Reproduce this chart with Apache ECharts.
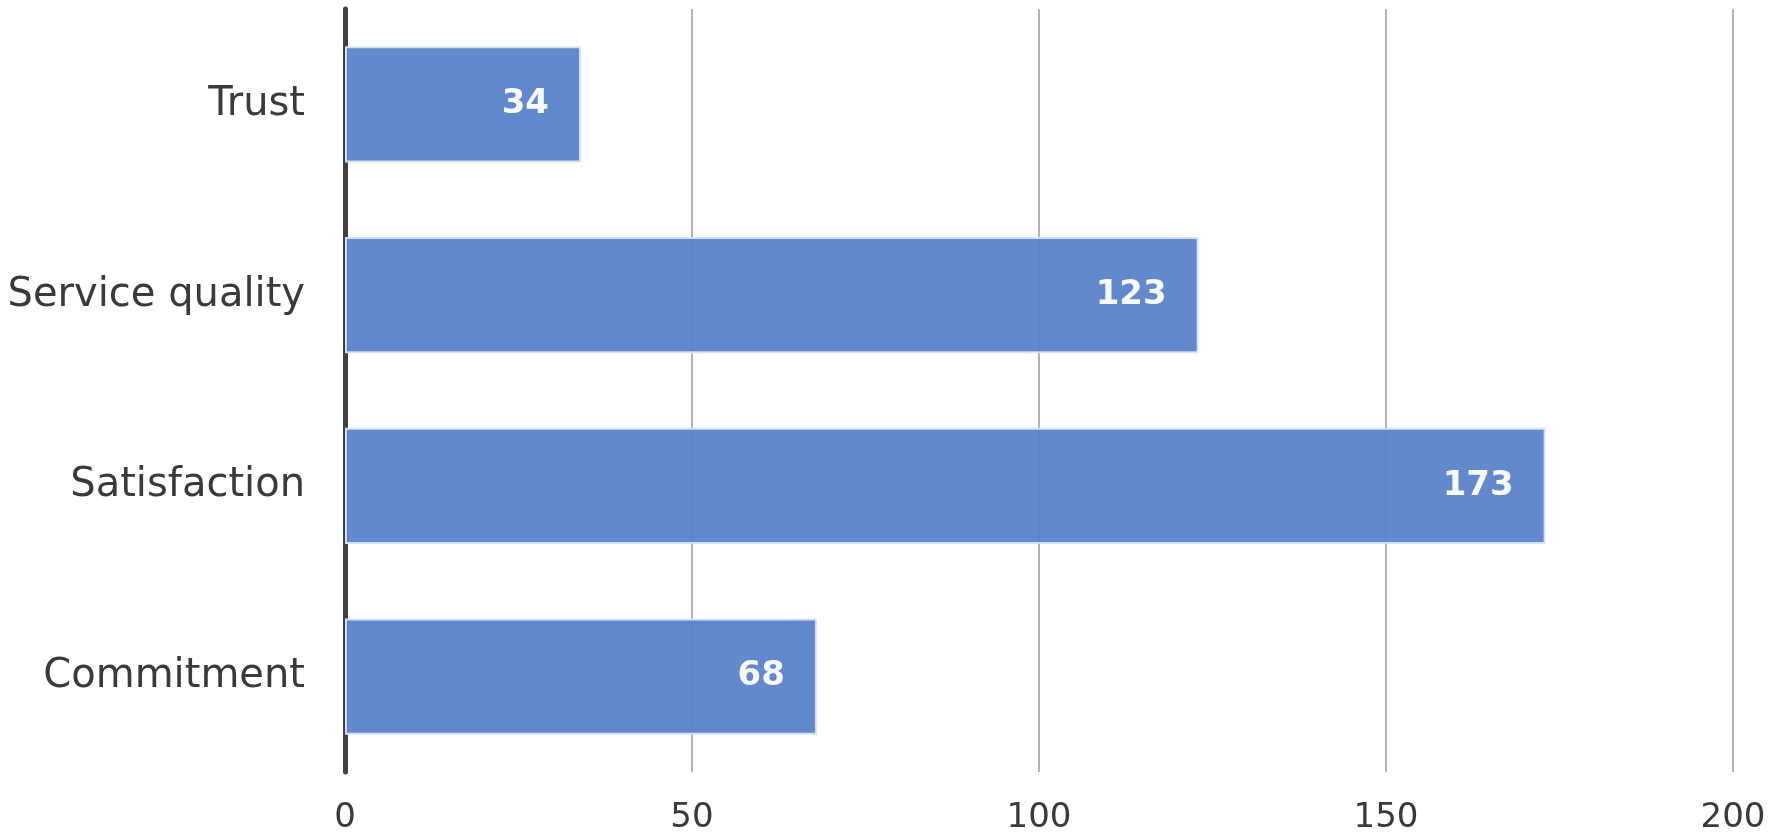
<!DOCTYPE html>
<html>
<head>
<meta charset="utf-8">
<script src="https://cdn.jsdelivr.net/npm/echarts@6/dist/echarts.min.js"></script>
<style>
html,body{margin:0;padding:0;background:#fff;}
#chart{width:1772px;height:839px;}
</style>
</head>
<body>
<div id="chart"></div>
<script>
const categories = ["Trust", "Service quality", "Satisfaction", "Commitment"];
const values = [34, 123, 173, 68];
const xTicks = [0, 50, 100, 150, 200];

const chart = echarts.init(document.getElementById('chart'), null, {renderer: 'canvas'});
chart.setOption({
  animation: false,
  backgroundColor: '#ffffff',
  grid: {left: 345, right: 39, top: 9, bottom: 67, containLabel: false},
  xAxis: {
    type: 'value',
    min: xTicks[0],
    max: xTicks[xTicks.length - 1],
    interval: 50,
    axisLine: {show: false},
    axisTick: {show: false},
    splitLine: {show: true, lineStyle: {color: '#b4b4b4', width: 2}},
    axisLabel: {
      margin: 29,
      fontFamily: 'DejaVu Sans',
      fontSize: 34,
      color: '#3a3a3a'
    }
  },
  yAxis: {
    type: 'category',
    data: categories,
    inverse: true,
    axisLine: {show: true, lineStyle: {color: '#404040', width: 5}},
    axisTick: {show: false},
    axisLabel: {
      margin: 40,
      fontFamily: 'DejaVu Sans',
      fontSize: 40,
      color: '#3a3a3a'
    }
  },
  series: [{
    type: 'bar',
    data: values,
    barWidth: '61%',
    itemStyle: {color: '#5a83c9', opacity: 0.95, borderColor: '#d8e3f3', borderWidth: 2},
    label: {
      show: true,
      position: 'insideRight',
      distance: 32,
      color: '#ffffff',
      fontFamily: 'DejaVu Sans',
      fontWeight: 'bold',
      fontSize: 34
    },
    z: 3
  }]
});
</script>
</body>
</html>
